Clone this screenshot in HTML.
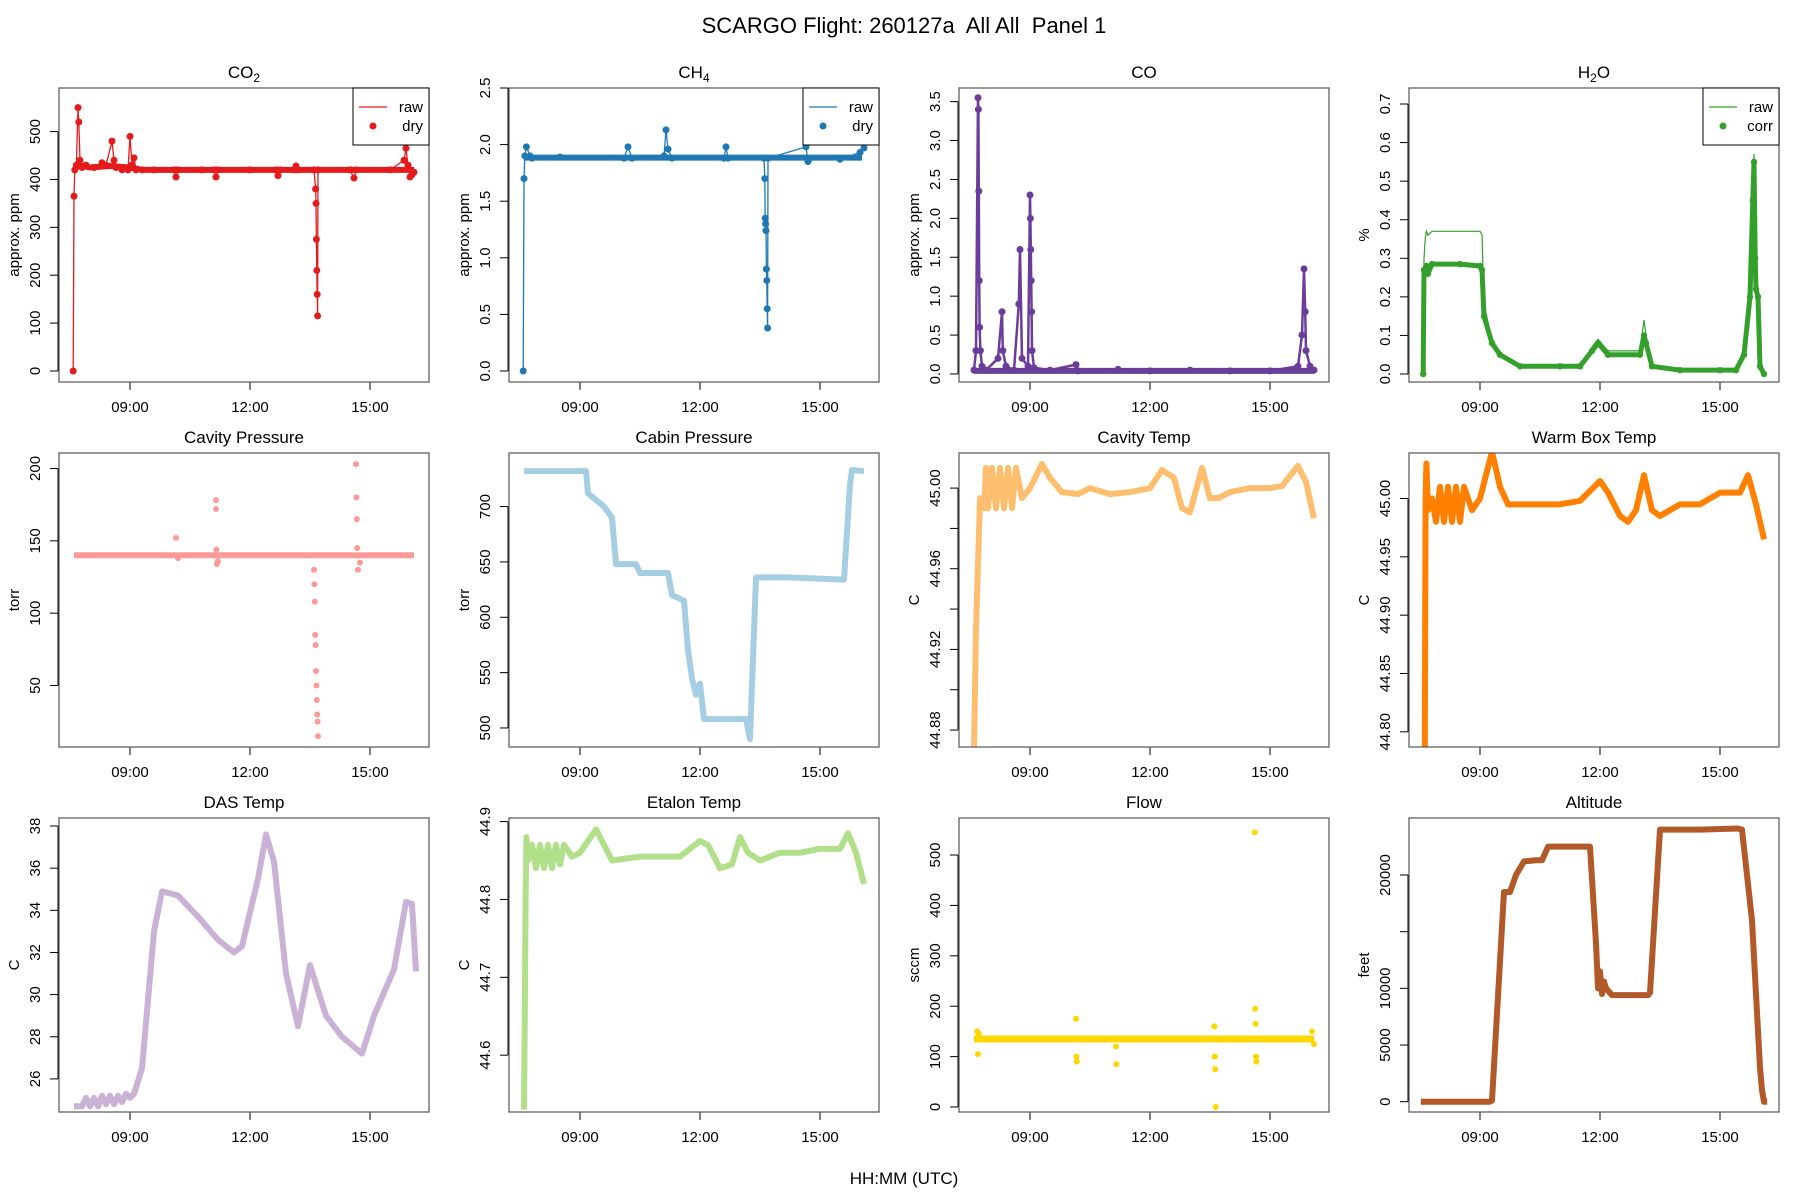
<!DOCTYPE html>
<html><head><meta charset="utf-8"><style>
html,body{margin:0;padding:0;background:#fff;}
svg{display:block;font-family:"Liberation Sans",sans-serif;}
</style></head><body>
<svg id="chart" width="1800" height="1200" viewBox="0 0 1800 1200" xmlns="http://www.w3.org/2000/svg">
<rect width="1800" height="1200" fill="#fff"/>
<text x="904" y="33" font-size="22" text-anchor="middle" style="white-space:pre">SCARGO Flight: 260127a  All All  Panel 1</text>
<text x="904" y="1184" font-size="17" text-anchor="middle">HH:MM (UTC)</text>
</svg>
<script>
// ---- data (time in hours UTC) ----
const xTickHours = [9, 12, 15];
const xTickLabels = ["09:00", "12:00", "15:00"];

const co2T = [7.58,7.6,7.62,7.66,7.7,7.72,7.75,7.8,7.9,8.1,8.3,8.4,8.55,8.6,8.65,8.8,8.95,9.0,9.05,9.1,9.15,9.3,9.6,10.1,10.15,10.2,10.8,11.1,11.15,11.2,12.0,12.65,12.7,12.75,13.1,13.15,13.2,13.6,13.64,13.65,13.66,13.67,13.68,13.69,13.7,14.5,14.6,14.65,15.5,15.85,15.9,15.95,16.0,16.05,16.1];
const co2V = [0,365,420,430,550,520,440,425,430,425,435,430,480,440,425,420,420,490,430,445,420,420,420,420,405,420,420,420,405,420,420,420,408,420,420,428,420,420,380,350,275,210,160,115,420,420,403,420,420,440,465,430,405,410,415];
const co2BaseT = [7.62,7.7,8.0,8.5,9.0,9.3,16.1];
const co2BaseV = [420,430,425,428,425,420,420];
const ch4T = [7.58,7.6,7.62,7.66,7.75,7.8,8.5,10.1,10.2,10.3,11.1,11.15,11.2,11.3,12.6,12.65,12.7,13.6,13.62,13.63,13.64,13.65,13.66,13.67,13.68,13.69,13.7,14.65,14.7,14.75,15.5,16.0,16.1];
const ch4V = [0.0,1.7,1.9,1.98,1.9,1.88,1.89,1.88,1.98,1.88,1.9,2.13,1.96,1.88,1.88,1.98,1.88,1.88,1.7,1.35,1.3,1.24,0.9,0.8,0.55,0.38,1.88,1.98,1.85,1.88,1.87,1.93,1.97];
const ch4BaseT = [7.62,16.05];
const ch4BaseV = [1.885,1.885];
const coT = [7.6,7.65,7.7,7.71,7.72,7.73,7.74,7.76,7.8,7.9,8.2,8.3,8.32,8.4,8.6,8.72,8.75,8.8,8.95,9.0,9.01,9.02,9.03,9.04,9.05,9.1,9.5,10.15,10.2,11.2,12.0,13.0,14.0,15.0,15.7,15.8,15.85,15.88,15.9,16.0,16.1];
const coV = [0.05,0.3,3.55,3.4,2.35,1.2,0.6,0.3,0.1,0.05,0.2,0.8,0.3,0.1,0.05,0.9,1.6,0.2,0.1,2.3,2.0,1.6,1.2,0.8,0.3,0.08,0.05,0.12,0.04,0.06,0.04,0.05,0.04,0.04,0.1,0.5,1.35,0.8,0.3,0.1,0.05];
const coBaseT = [7.6,16.1];
const coBaseV = [0.04,0.04];
const h2oT = [7.58,7.6,7.63,7.66,7.7,7.8,8.5,9.0,9.05,9.1,9.3,9.5,10.0,11.0,11.5,11.8,11.95,12.2,13.0,13.1,13.15,13.3,14.0,15.0,15.4,15.6,15.75,15.82,15.85,15.88,15.9,15.95,16.0,16.1];
const h2oV = [0.0,0.27,0.27,0.28,0.26,0.285,0.285,0.28,0.27,0.15,0.08,0.05,0.02,0.02,0.02,0.06,0.08,0.05,0.05,0.1,0.08,0.02,0.01,0.01,0.01,0.05,0.2,0.45,0.55,0.3,0.22,0.2,0.02,0.0];
const h2oRawV = [0.0,0.3,0.35,0.37,0.36,0.37,0.37,0.37,0.36,0.18,0.09,0.05,0.02,0.02,0.02,0.07,0.09,0.06,0.06,0.14,0.1,0.02,0.01,0.01,0.01,0.06,0.22,0.5,0.57,0.32,0.24,0.22,0.02,0.0];
const cavPBaseT = [7.6,16.1];
const cavPBaseV = [140,140];
const cavPT = [10.15,10.2,11.15,11.15,11.16,11.17,11.2,13.6,13.61,13.62,13.63,13.64,13.65,13.66,13.67,13.68,13.69,13.7,14.65,14.66,14.67,14.68,14.7,14.75];
const cavPV = [152,138,178,172,144,134,136,130,120,108,85,78,60,50,40,30,25,15,203,180,165,145,130,135];
const cabinT = [7.6,9.15,9.2,9.6,9.8,9.9,10.4,10.5,11.2,11.3,11.6,11.7,11.8,11.9,12.0,12.1,13.15,13.25,13.4,14.2,15.6,15.75,15.8,16.1];
const cabinV = [732,732,712,700,690,648,648,640,640,620,615,570,545,530,540,508,508,490,636,636,634,720,733,732];
const cavTT = [7.6,7.65,7.75,7.85,7.9,7.95,8.05,8.15,8.25,8.35,8.45,8.55,8.65,8.8,9.0,9.3,9.5,9.8,10.2,10.5,11.0,11.5,12.0,12.3,12.6,12.8,13.0,13.3,13.5,13.7,14.0,14.5,15.0,15.3,15.7,15.9,16.1];
const cavTV = [44.87,44.93,44.995,44.99,45.01,44.99,45.01,44.99,45.01,44.99,45.01,44.99,45.01,44.995,45.0,45.012,45.005,44.998,44.997,45.0,44.997,44.998,45.0,45.009,45.005,44.99,44.988,45.01,44.995,44.995,44.998,45.0,45.0,45.001,45.011,45.003,44.985];
const warmT = [7.62,7.63,7.64,7.66,7.7,7.8,7.9,8.0,8.1,8.2,8.3,8.4,8.5,8.6,8.8,9.0,9.3,9.5,9.7,10.0,10.5,11.0,11.5,12.0,12.2,12.5,12.7,12.9,13.1,13.3,13.5,14.0,14.5,15.0,15.5,15.7,15.9,16.1];
const warmV = [44.78,44.9,45.0,45.03,44.99,45.0,44.98,45.01,44.98,45.01,44.98,45.01,44.98,45.01,44.99,45.0,45.04,45.01,44.995,44.995,44.995,44.995,44.998,45.015,45.005,44.985,44.98,44.99,45.02,44.99,44.985,44.995,44.995,45.005,45.005,45.02,44.995,44.965];
const dasT = [7.6,7.8,7.9,8.0,8.1,8.2,8.3,8.4,8.5,8.6,8.7,8.8,8.9,9.0,9.1,9.3,9.6,9.8,10.2,10.7,11.2,11.6,11.8,12.2,12.4,12.6,12.9,13.2,13.5,13.9,14.3,14.8,15.1,15.6,15.9,16.05,16.15];
const dasV = [24.7,24.7,25.1,24.7,25.1,24.7,25.2,24.8,25.2,24.8,25.2,24.9,25.3,25.1,25.3,26.5,33.0,34.9,34.7,33.7,32.6,32.0,32.3,35.5,37.6,36.3,31.0,28.5,31.4,29.0,28.0,27.2,29.0,31.2,34.4,34.3,31.1];
const etalonT = [7.6,7.62,7.64,7.66,7.7,7.8,7.9,8.0,8.1,8.2,8.3,8.4,8.5,8.6,8.8,9.0,9.4,9.8,10.5,11.5,12.0,12.2,12.5,12.8,13.0,13.2,13.5,14.0,14.5,15.0,15.5,15.7,15.9,16.1];
const etalonV = [44.53,44.65,44.8,44.88,44.85,44.87,44.84,44.87,44.84,44.87,44.84,44.87,44.845,44.87,44.855,44.86,44.89,44.85,44.855,44.855,44.875,44.87,44.84,44.845,44.88,44.86,44.85,44.86,44.86,44.865,44.865,44.885,44.86,44.82];
const flowBaseT = [7.6,16.1];
const flowBaseV = [135,135];
const flowT = [7.68,7.7,7.72,10.15,10.16,10.17,11.15,11.16,13.61,13.62,13.63,13.64,14.62,14.63,14.64,14.65,14.66,16.05,16.1];
const flowV = [150,105,145,175,100,90,120,85,160,100,75,0,545,195,165,100,90,150,125];
const altT = [7.52,9.25,9.3,9.6,9.75,9.9,10.1,10.4,10.55,10.7,11.7,11.75,11.9,11.95,12.0,12.05,12.1,12.15,12.3,13.2,13.25,13.5,14.5,15.45,15.55,15.8,16.0,16.05,16.1,16.18];
const altV = [0,0,100,18500,18500,20000,21200,21300,21300,22500,22500,22500,14000,10000,11500,9500,10600,10000,9400,9400,9600,24000,24000,24100,24000,16000,3000,1000,0,0];

// y ticks
const co2Ticks = [0,100,200,300,400,500];
const ch4Ticks = [0,0.5,1,1.5,2,2.5];
const coTicks = [0,0.5,1,1.5,2,2.5,3,3.5];
const h2oTicks = [0,0.1,0.2,0.3,0.4,0.5,0.6,0.7];
const cavPTicks = [50,100,150,200];
const cabinTicks = [500,550,600,650,700];
const cavTTicks = [44.88,44.90,44.92,44.94,44.96,44.98,45.00];
const warmTicks = [44.80,44.85,44.90,44.95,45.00];
const dasTicks = [26,28,30,32,34,36,38];
const etalonTicks = [44.6,44.7,44.8,44.9];
const flowTicks = [0,100,200,300,400,500];
const altTicks = [0,5000,10000,15000,20000];

// ---- rendering ----
const NS = "http://www.w3.org/2000/svg";
const svg = document.getElementById('chart');
const COLS = [59,509,959,1409], ROWS = [88,453,818], W = 370, H = 294;
const T0 = 7.225, T1 = 16.475;
function mk(tag, attrs, parent){const e=document.createElementNS(NS,tag);for(const k in attrs)e.setAttribute(k,attrs[k]);(parent||svg).appendChild(e);return e;}

function panel(cfg){
  const L=COLS[cfg.c], Tp=ROWS[cfg.r];
  const g = mk('g',{});
  
  
  const xs = t => L + (t - T0)/(T1 - T0)*W;
  const ys = v => Tp + H - (v - cfg.ymin)/(cfg.ymax - cfg.ymin)*H;
  const ttl = mk('text',{x:L+W/2,y:Tp-10,'font-size':17,'text-anchor':'middle'},g);
  
  
  ttl.innerHTML = cfg.title;
  const xa = mk('g',{},g);
  
  
  mk('line',{x1:xs(xTickHours[0]),x2:xs(xTickHours[xTickHours.length-1]),y1:Tp+H,y2:Tp+H,stroke:'#000','stroke-width':1},xa);
  xTickHours.forEach((h,i)=>{
    mk('line',{x1:xs(h),x2:xs(h),y1:Tp+H,y2:Tp+H+8,stroke:'#000'},xa);
    const tx = mk('text',{x:xs(h),y:Tp+H+30,'font-size':15,'text-anchor':'middle'},xa);
    
    
    tx.textContent = xTickLabels[i];
  });
  const ya = mk('g',{},g);
  
  
  const tk = cfg.ticks;
  mk('line',{x1:L-1,x2:L-1,y1:ys(tk[0]),y2:ys(tk[tk.length-1]),stroke:'#000'},ya);
  tk.forEach((v,i)=>{
    const y=ys(v);
    mk('line',{x1:L-9,x2:L-1,y1:y,y2:y,stroke:'#000'},ya);
    if(cfg.skip && cfg.skip(v,i)) return;
    const tx = mk('text',{x:0,y:0,'font-size':15,'text-anchor':'middle',transform:`translate(${L-19},${y}) rotate(-90)`},ya);
    
    
    tx.textContent = cfg.fmt(v);
  });
  const yt = mk('text',{x:0,y:0,'font-size':15,'text-anchor':'middle',transform:`translate(${L-40},${Tp+H/2}) rotate(-90)`},g);
  
  
  yt.textContent = cfg.ylab;
  const cid='clip'+cfg.name;
  const cp=mk('clipPath',{id:cid},g); mk('rect',{x:L,y:Tp,width:W,height:H},cp);
  const plot = mk('g',{'clip-path':`url(#${cid})`},g);
  
  
  if(cfg.bt){
    const pb = mk('polyline',{points:cfg.bt.map((t,i)=>xs(t)+','+ys(cfg.bv[i])).join(' '),fill:'none',stroke:cfg.color,'stroke-width':cfg.bw||6},plot);
    
    
  }
  if(cfg.raw){
    const pr = mk('polyline',{points:cfg.t.map((t,i)=>xs(t)+','+ys(cfg.raw[i])).join(' '),fill:'none',stroke:cfg.color,'stroke-width':1.2},plot);
    
    
  }
  if(cfg.lw>0){
    const pl = mk('polyline',{points:cfg.t.map((t,i)=>xs(t)+','+ys(cfg.v[i])).join(' '),fill:'none',stroke:cfg.color,'stroke-width':cfg.lw,'stroke-linejoin':'round'},plot);
    
    
  }
  if(cfg.pts){
    cfg.t.forEach((t,i)=>{
      const c = mk('circle',{cx:xs(t),cy:ys(cfg.v[i]),r:cfg.pts,fill:cfg.color},plot);
      
      
    });
  }
  const box = mk('rect',{x:L,y:Tp,width:W,height:H,fill:'none',stroke:'#555','stroke-width':1.2},g);
  
  
  if(cfg.legend){
    const lg = mk('g',{},g);
    
    
    mk('rect',{x:L+W-76,y:Tp,width:76,height:57,fill:'#fff',stroke:'#000'},lg);
    mk('line',{x1:L+W-70,x2:L+W-42,y1:Tp+19,y2:Tp+19,stroke:cfg.color,'stroke-width':1.2},lg);
    mk('circle',{cx:L+W-56,cy:Tp+38,r:3.5,fill:cfg.color},lg);
    const a=mk('text',{x:L+W-6,y:Tp+24,'font-size':15,'text-anchor':'end'},lg); a.textContent='raw';
    const b=mk('text',{x:L+W-6,y:Tp+43,'font-size':15,'text-anchor':'end'},lg); b.textContent=cfg.legend;
  }
}
const f1 = v => v.toFixed(1), f0 = v => String(v), f2 = v => v.toFixed(2);
panel({name:'co2',c:0,r:0,title:'CO<tspan font-size="12" dy="4">2</tspan>',t:co2T,v:co2V,bt:co2BaseT,bv:co2BaseV,bw:6,ymin:-23,ymax:591,ticks:co2Ticks,fmt:f0,ylab:'approx. ppm',color:'#E41A1C',lw:1.3,pts:3.5,legend:'dry'});
panel({name:'ch4',c:1,r:0,title:'CH<tspan font-size="12" dy="4">4</tspan>',t:ch4T,v:ch4V,bt:ch4BaseT,bv:ch4BaseV,bw:6,ymin:-0.097,ymax:2.5,ticks:ch4Ticks,fmt:f1,ylab:'approx. ppm',color:'#1F78B4',lw:1.3,pts:3.5,legend:'dry'});
panel({name:'co',c:2,r:0,title:'CO',t:coT,v:coV,bt:coBaseT,bv:coBaseV,bw:6,ymin:-0.103,ymax:3.675,ticks:coTicks,fmt:f1,ylab:'approx. ppm',color:'#6A3D9A',lw:2.5,pts:3.5});
panel({name:'h2o',c:3,r:0,title:'H<tspan font-size="12" dy="4">2</tspan><tspan dy="-4">O</tspan>',t:h2oT,v:h2oV,raw:h2oRawV,ymin:-0.0207,ymax:0.7415,ticks:h2oTicks,fmt:f1,ylab:'%',color:'#33A02C',lw:5,pts:3.2,legend:'corr'});
panel({name:'cavity-pressure',c:0,r:1,title:'Cavity Pressure',t:cavPT,v:cavPV,bt:cavPBaseT,bv:cavPBaseV,bw:6,ymin:7.5,ymax:210.7,ticks:cavPTicks,fmt:f0,ylab:'torr',color:'#FB9A99',lw:0,pts:3});
panel({name:'cabin-pressure',c:1,r:1,title:'Cabin Pressure',t:cabinT,v:cabinV,ymin:482.8,ymax:748.4,ticks:cabinTicks,fmt:f0,ylab:'torr',color:'#A6CEE3',lw:6});
panel({name:'cavity-temp',c:2,r:1,title:'Cavity Temp',t:cavTT,v:cavTV,ymin:44.8716,ymax:45.0174,ticks:cavTTicks,fmt:f2,skip:(v,i)=>i%2===1,ylab:'C',color:'#FDBF6F',lw:6});
panel({name:'warm-box-temp',c:3,r:1,title:'Warm Box Temp',t:warmT,v:warmV,ymin:44.787,ymax:45.039,ticks:warmTicks,fmt:f2,ylab:'C',color:'#FF7F00',lw:6});
panel({name:'das-temp',c:0,r:2,title:'DAS Temp',t:dasT,v:dasV,ymin:24.43,ymax:38.38,ticks:dasTicks,fmt:f0,ylab:'C',color:'#CAB2D6',lw:6});
panel({name:'etalon-temp',c:1,r:2,title:'Etalon Temp',t:etalonT,v:etalonV,ymin:44.527,ymax:44.9046,ticks:etalonTicks,fmt:f1,ylab:'C',color:'#B2DF8A',lw:6});
panel({name:'flow',c:2,r:2,title:'Flow',t:flowT,v:flowV,bt:flowBaseT,bv:flowBaseV,bw:7,ymin:-9.9,ymax:573.4,ticks:flowTicks,fmt:f0,ylab:'sccm',color:'#FFD700',lw:0,pts:3});
panel({name:'altitude',c:3,r:2,title:'Altitude',t:altT,v:altV,ymin:-909,ymax:25030,ticks:altTicks,fmt:f0,skip:v=>v===15000,ylab:'feet',color:'#B15928',lw:6});
</script>
</body></html>
